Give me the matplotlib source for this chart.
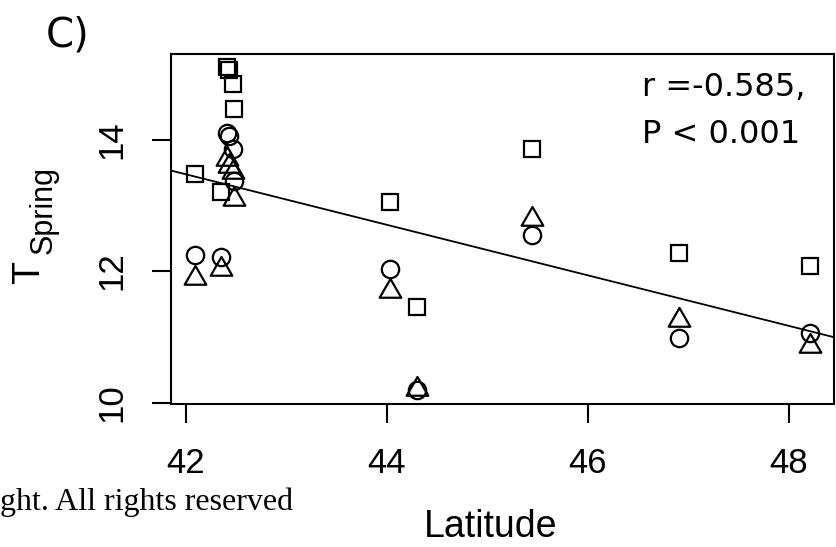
import matplotlib
matplotlib.use('Agg')
import matplotlib.pyplot as plt
from matplotlib.path import Path

# site latitudes and spring temperature for the three series
latitude = [42.09, 42.35, 42.41, 42.43, 42.47, 42.48, 44.03, 44.30, 45.45, 46.91, 48.21]
temp_circle = [12.24, 12.21, 14.10, 14.06, 13.85, 13.37, 12.03, 10.19, 12.55, 10.98, 11.06]
temp_triangle = [11.90, 12.03, 13.70, 13.60, 13.50, 13.10, 11.70, 10.21, 12.79, 11.26, 10.86]
temp_square = [13.47, 13.20, 15.11, 15.06, 14.84, 14.47, 13.05, 11.46, 13.86, 12.28, 12.08]

# fitted regression line
fit_slope = -0.384
fit_intercept = 29.60

x_ticks = [42, 44, 46, 48]
y_ticks = [10, 12, 14]
stats_text = "r =-0.585,\nP < 0.001"

W, H = 836, 547
fig = plt.figure(figsize=(W / 100, H / 100), dpi=100)
ax = fig.add_axes([170.7 / W, 1 - 404 / H, (834 - 170.7) / W, (404 - 54) / H])

# open triangle centred on its centroid, like R's pch 2
tri = Path([(0, 1.155), (-1, -0.577), (1, -0.577), (0, 1.155)], closed=True)

mk = dict(linestyle='none', mfc='none', mec='black', mew=1.6)
ax.plot(latitude, temp_circle, marker='o', ms=12.5, **mk)
ax.plot(latitude, temp_triangle, marker=tri, ms=18, **mk)
ax.plot(latitude, temp_square, marker='s', ms=12, **mk)

ax.axline((0, fit_intercept), slope=fit_slope, color='black', lw=1.3)

ax.set_xlim(41.85, 48.45)
ax.set_ylim(9.98, 15.30)
ax.set_xticks(x_ticks)
ax.set_yticks(y_ticks)
for s in ax.spines.values():
    s.set_linewidth(1.5)

ax.tick_params(axis='both', direction='out', length=13.7, width=1.5, pad=17,
               labelsize=25)
for lab in ax.get_xticklabels() + ax.get_yticklabels():
    lab.set_family('Liberation Sans')
for lab in ax.get_yticklabels():
    lab.set_rotation(90)
    lab.set_va('center')

# correlation note, baseline of the last line given
fig.text(641.7 / W, 1 - 143.3 / H, stats_text, fontsize=23,
         family='DejaVu Sans', ha='left', va='baseline', linespacing=1.66)

fig.text(491 / W, 1 - 527 / H, 'Latitude', fontsize=27,
         family='Liberation Sans', ha='center', va='center')

# y label: T with a lowered "Spring"
fig.text(29 / W, 1 - 273 / H, 'T', fontsize=27, family='Liberation Sans',
         rotation=90, ha='center', va='center')
fig.text(43.5 / W, 1 - 210 / H, 'Spring', fontsize=22, family='Liberation Sans',
         rotation=90, ha='center', va='center')

fig.text(46 / W, 1 - 46.7 / H, 'C)', fontsize=29, family='DejaVu Sans',
         ha='left', va='baseline')
fig.text(0, 1 - 510 / H, 'ght. All rights reserved', fontsize=23,
         family='Liberation Serif', ha='left', va='baseline')

fig.savefig('out.png', dpi=100)
